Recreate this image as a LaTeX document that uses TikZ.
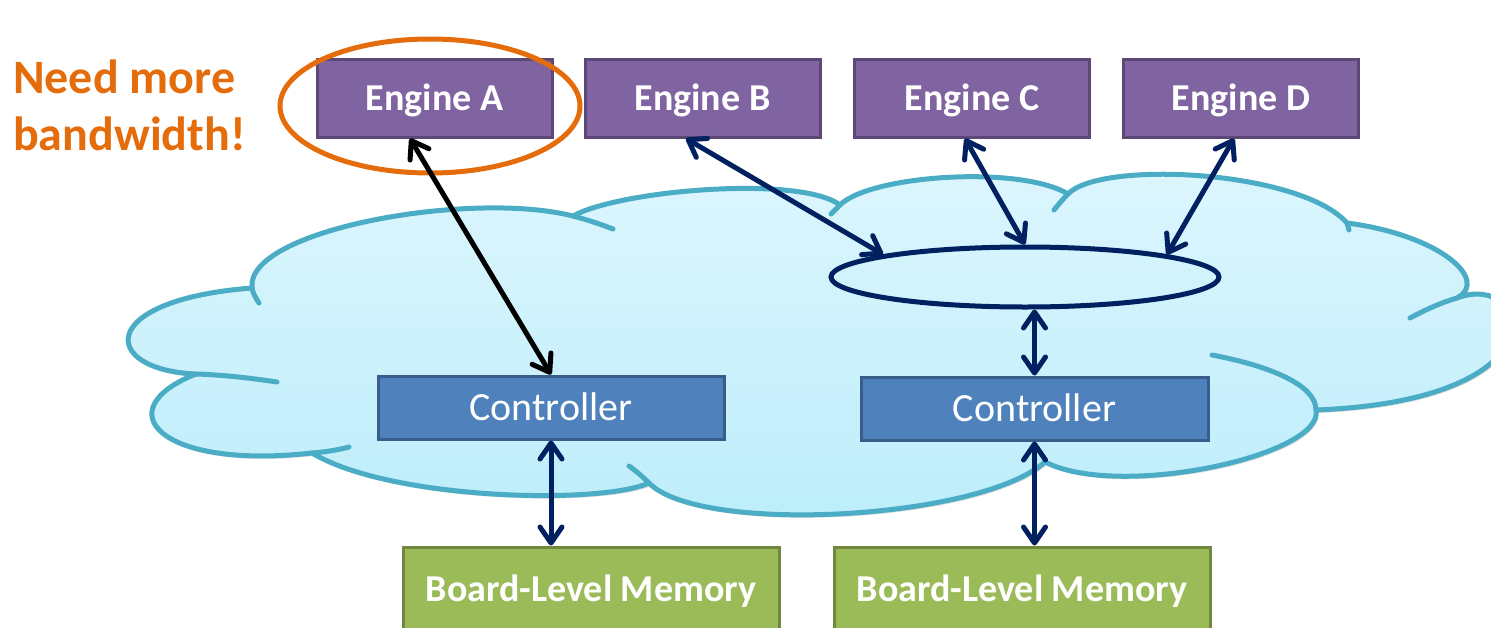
\documentclass[tikz,border=0pt]{standalone}
\usepackage{fontspec}
\setmainfont{Carlito}
\usetikzlibrary{arrows.meta,shapes.geometric,shadows,calc}

\definecolor{engfill}{HTML}{8064A2}
\definecolor{engedge}{HTML}{5C4776}
\definecolor{ctlfill}{HTML}{4F81BD}
\definecolor{ctledge}{HTML}{385D8A}
\definecolor{memfill}{HTML}{9BBB59}
\definecolor{memedge}{HTML}{71893F}
\definecolor{cloudedge}{HTML}{4BACC6}
\definecolor{cloudtop}{HTML}{DDF6FD}
\definecolor{cloudbot}{HTML}{BCEDFB}
\definecolor{navy}{HTML}{002060}
\definecolor{alert}{HTML}{E46C0A}

\tikzset{
  engine/.style={draw=engedge, fill=engfill, line width=3pt,
    minimum width=235pt, minimum height=78pt, inner sep=0pt, text=white,
    text height=24.5pt, text depth=0pt,
    font=\fontsize{38}{44}\selectfont\bfseries},
  ctlbox/.style={draw=ctledge, fill=ctlfill, line width=3pt,
    minimum height=63pt, inner sep=0pt, text=white,
    text height=25.8pt, text depth=0pt,
    font=\fontsize{40}{46}\selectfont},
  membox/.style={draw=memedge, fill=memfill, line width=3pt,
    minimum width=376pt, minimum height=84pt, inner sep=0pt, text=white,
    text height=24.5pt, text depth=0pt,
    font=\fontsize{38}{44}\selectfont\bfseries},
  cloudline/.style={draw=cloudedge, line width=5pt, line cap=round, line join=round},
  link/.style={<->, line width=5pt, draw=navy},
  blink/.style={<->, line width=5pt, draw=black},
  >={Straight Barb[length=16pt,width=22pt,round]},
}

\begin{document}
\begin{tikzpicture}[x=1pt,y=-1pt]
\useasboundingbox (0,0) rectangle (1491,627);
\clip (0,0) rectangle (1491,627);

% cloud outline
\shadedraw[cloudline, top color=cloudtop, bottom color=cloudbot,
  drop shadow={shadow xshift=2pt, shadow yshift=-3pt, opacity=0.25, fill=black!50}]
  (196,374) .. controls (100,370) and (95,300) .. (252,288)
  .. controls (245,230) and (470,190) .. (573,216)
  .. controls (620,190) and (800,175) .. (840,205)
  .. controls (870,175) and (1020,165) .. (1068,194)
  .. controls (1100,160) and (1300,170) .. (1347,223)
  .. controls (1440,235) and (1490,280) .. (1457,298)
  .. controls (1530,270) and (1570,400) .. (1316,410)
  .. controls (1325,455) and (1120,500) .. (1045,462)
  .. controls (980,520) and (700,535) .. (649,483)
  .. controls (600,505) and (390,500) .. (312,453)
  .. controls (160,470) and (105,410) .. (196,374) -- cycle;

% inner lobe strokes of the cloud
\draw[cloudline] (196,374) .. controls (225,375) and (250,378) .. (277,382);
\draw[cloudline] (259,303) .. controls (255,297) and (253,293) .. (252,288);
\draw[cloudline] (573,216) .. controls (588,220) and (600,224) .. (613,229);
\draw[cloudline] (831,214) .. controls (834,211) and (837,208) .. (840,205);
\draw[cloudline] (1054,210) .. controls (1058,205) and (1063,199) .. (1068,194);
\draw[cloudline] (1347,223) -- (1349,230);
\draw[cloudline] (1410,318) .. controls (1425,310) and (1440,303) .. (1457,298);
\draw[cloudline] (1212,355) .. controls (1270,366) and (1316,385) .. (1316,410);
\draw[cloudline] (649,483) .. controls (642,476) and (636,471) .. (629,466);
\draw[cloudline] (312,453) .. controls (325,452) and (338,450) .. (349,447);

% shared interconnect
\node[ellipse, draw=navy, line width=5pt, minimum width=388pt, minimum height=60pt,
  inner sep=0pt] (hub) at (1025,277) {};

% engines
\node[engine] (engA) at (434.5,98) {Engine A};
\node[engine] (engB) at (702.5,98) {Engine B};
\node[engine] (engC) at (972,98) {Engine C};
\node[engine] (engD) at (1241,98) {Engine D};

% controllers
\node[ctlbox, minimum width=346pt] (ctl1) at (551,407.5) {Controller};
\node[ctlbox, minimum width=347pt] (ctl2) at (1034.5,408.5) {Controller};

% memories
\node[membox] (mem1) at (591,589) {Board-Level Memory};
\node[membox] (mem2) at (1022,589) {Board-Level Memory};

% highlight
\node[ellipse, draw=alert, line width=5pt, minimum width=300pt, minimum height=134pt,
  inner sep=0pt] (ring) at (430,106) {};
\node[anchor=base west, text=alert, inner sep=0pt,
  font=\fontsize{48}{56}\selectfont\bfseries] (need1) at (13,93) {Need more};
\node[anchor=base west, text=alert, inner sep=0pt,
  font=\fontsize{48}{56}\selectfont\bfseries] (need2) at (13,150) {bandwidth!};

% connections
\draw[blink] ([xshift=-24.5pt]engA.south) -- (ctl1.north);
\draw[link] ([xshift=-16.5pt]engB.south) -- (hub.171);
\draw[link] ([xshift=-7pt]engC.south) -- (hub.north);
\draw[link] ([xshift=-7pt]engD.south) -- (hub.9);
\draw[link] (hub.south -| ctl2.north) -- (ctl2.north);
\draw[link] (ctl1.south) -- (ctl1.south |- mem1.north);
\draw[link] (ctl2.south) -- (ctl2.south |- mem2.north);
\end{tikzpicture}
\end{document}
